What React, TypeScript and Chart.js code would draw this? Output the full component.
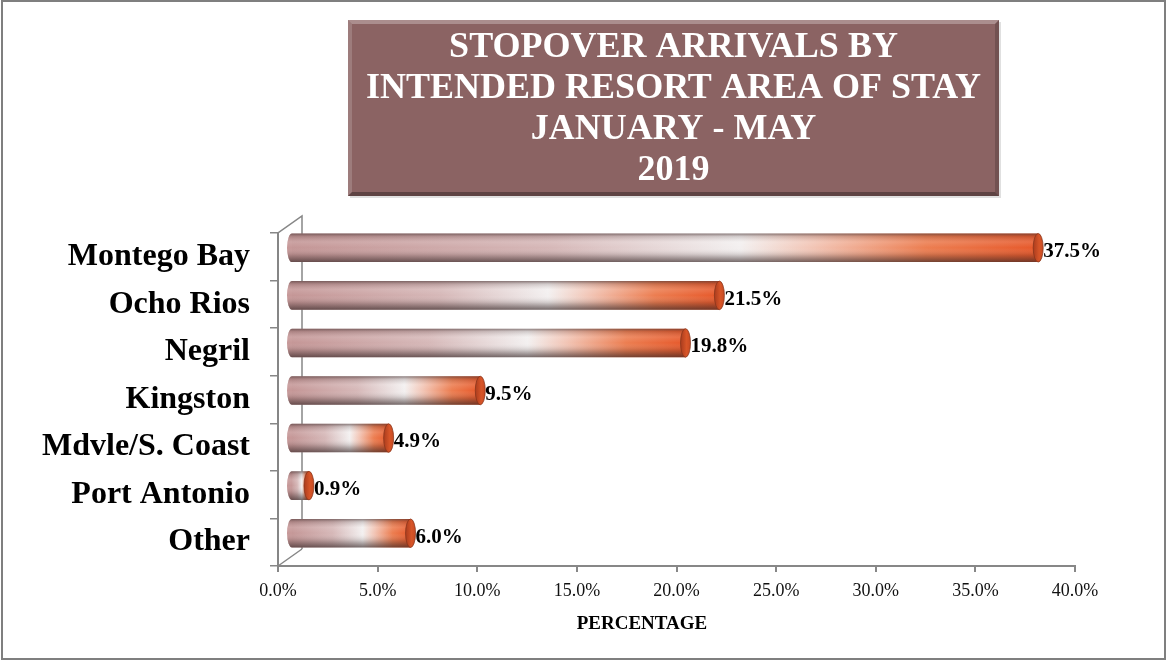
import React, { useEffect, useRef } from "react";
import { Chart, registerables } from "chart.js";

Chart.register(...registerables);

// ---- data ----
const categories = [
  "Montego Bay",
  "Ocho Rios",
  "Negril",
  "Kingston",
  "Mdvle/S. Coast",
  "Port Antonio",
  "Other",
];
const shares = [37.5, 21.5, 19.8, 9.5, 4.9, 0.9, 6.0];
const xTickValues = [0, 5, 10, 15, 20, 25, 30, 35, 40];
const titleLines = [
  "STOPOVER ARRIVALS BY",
  "INTENDED RESORT AREA OF STAY",
  "JANUARY - MAY",
  "2019",
];
const axisTitle = "PERCENTAGE";

// ---- styling ----
const W = 1167;
const H = 661;
const SERIF = "'Liberation Serif', 'Times New Roman', serif";
const AXIS = "#878787";
const DEPTH_X = 24;
const DEPTH_Y = -17;
const BAR_DX = 13;
const BAR_DY = -9;
const CAP_RX = 5;

const fmt = (v: number) => v.toFixed(1) + "%";

const cylinderPlugin = {
  id: "cylinder3d",
  beforeDraw(chart: any) {
    const ctx = chart.ctx as CanvasRenderingContext2D;
    ctx.save();
    ctx.fillStyle = "#ffffff";
    ctx.fillRect(0, 0, W, H);
    // outer border
    ctx.strokeStyle = "#7f7f7f";
    ctx.lineWidth = 2;
    ctx.strokeRect(2, 1, W - 4, H - 3);

    // title box
    const bx = 348, by = 20, bw = 651, bh = 176, bv = 4;
    ctx.fillStyle = "rgba(0,0,0,0.12)";
    ctx.fillRect(bx + 2, by + 2, bw, bh);
    ctx.fillStyle = "#8b6363";
    ctx.fillRect(bx, by, bw, bh);
    const poly = (pts: number[][], color: string) => {
      ctx.beginPath();
      ctx.moveTo(pts[0][0], pts[0][1]);
      for (let i = 1; i < pts.length; i++) ctx.lineTo(pts[i][0], pts[i][1]);
      ctx.closePath();
      ctx.fillStyle = color;
      ctx.fill();
    };
    poly([[bx, by], [bx + bw, by], [bx + bw - bv, by + bv], [bx + bv, by + bv]], "rgba(255,255,255,0.28)");
    poly([[bx, by], [bx + bv, by + bv], [bx + bv, by + bh - bv], [bx, by + bh]], "rgba(255,255,255,0.16)");
    poly([[bx + bw, by], [bx + bw, by + bh], [bx + bw - bv, by + bh - bv], [bx + bw - bv, by + bv]], "rgba(0,0,0,0.18)");
    poly([[bx, by + bh], [bx + bw, by + bh], [bx + bw - bv, by + bh - bv], [bx + bv, by + bh - bv]], "rgba(0,0,0,0.32)");

    ctx.fillStyle = "#ffffff";
    ctx.font = `bold 36px ${SERIF}`;
    ctx.textAlign = "center";
    ctx.textBaseline = "alphabetic";
    const baselines = [57, 98, 139, 180];
    titleLines.forEach((t, i) => ctx.fillText(t, bx + bw / 2, baselines[i]));

    // axis title
    ctx.fillStyle = "#000000";
    ctx.font = `bold 19px ${SERIF}`;
    ctx.textBaseline = "middle";
    ctx.fillText(axisTitle, 642, 624);
    ctx.restore();
  },
  beforeDatasetsDraw(chart: any) {
    const ctx = chart.ctx as CanvasRenderingContext2D;
    const { left, top, bottom } = chart.chartArea;
    ctx.save();
    ctx.strokeStyle = AXIS;
    ctx.lineWidth = 1.5;
    ctx.beginPath();
    ctx.moveTo(left, bottom);
    ctx.lineTo(left, top);
    ctx.lineTo(left + DEPTH_X, top + DEPTH_Y);
    ctx.lineTo(left + DEPTH_X, bottom + DEPTH_Y);
    ctx.moveTo(left, bottom);
    ctx.lineTo(left + DEPTH_X, bottom + DEPTH_Y);
    ctx.stroke();
    ctx.restore();
    ctx.save();
    ctx.translate(BAR_DX, BAR_DY);
  },
  afterDatasetsDraw(chart: any) {
    const ctx = chart.ctx as CanvasRenderingContext2D;
    const meta = chart.getDatasetMeta(0);
    const items = meta.data.map((bar: any) => bar.getProps(["x", "y", "base", "height"], true));
    items.forEach((p: any) => {
      const { x, y, base, height } = p;
      if (![x, y, base, height].every(Number.isFinite)) return;
      const hh = height / 2;
      // left (back) cap
      ctx.beginPath();
      ctx.ellipse(base, y, CAP_RX, hh, 0, Math.PI / 2, (3 * Math.PI) / 2);
      ctx.closePath();
      ctx.fillStyle = "rgb(198,152,152)";
      ctx.fill();
      // vertical shading overlay
      ctx.beginPath();
      ctx.moveTo(base, y - hh);
      ctx.lineTo(x, y - hh);
      ctx.lineTo(x, y + hh);
      ctx.lineTo(base, y + hh);
      ctx.ellipse(base, y, CAP_RX, hh, 0, Math.PI / 2, (3 * Math.PI) / 2);
      ctx.closePath();
      const vg = ctx.createLinearGradient(0, y - hh, 0, y + hh);
      vg.addColorStop(0, "rgba(70,50,50,0.6)");
      vg.addColorStop(0.1, "rgba(70,50,50,0.2)");
      vg.addColorStop(0.3, "rgba(255,255,255,0.12)");
      vg.addColorStop(0.5, "rgba(255,255,255,0)");
      vg.addColorStop(0.75, "rgba(50,35,35,0.18)");
      vg.addColorStop(1, "rgba(50,35,35,0.65)");
      ctx.fillStyle = vg;
      ctx.fill();
      // right (front) cap
      ctx.beginPath();
      ctx.ellipse(x, y, CAP_RX, hh, 0, 0, Math.PI * 2);
      const cg = ctx.createLinearGradient(x - CAP_RX, 0, x + CAP_RX, 0);
      cg.addColorStop(0, "rgb(170,60,30)");
      cg.addColorStop(0.6, "rgb(215,85,40)");
      cg.addColorStop(1, "rgb(200,75,35)");
      ctx.fillStyle = cg;
      ctx.fill();
      ctx.strokeStyle = "rgba(130,50,25,0.7)";
      ctx.lineWidth = 1;
      ctx.stroke();
    });
    ctx.restore();
    // value labels
    ctx.save();
    ctx.fillStyle = "#000000";
    ctx.font = `bold 21px ${SERIF}`;
    ctx.textAlign = "left";
    ctx.textBaseline = "middle";
    items.forEach((p: any, i: number) => {
      if (!Number.isFinite(p.x)) return;
      ctx.fillText(fmt(shares[i]), p.x + BAR_DX + CAP_RX, p.y + BAR_DY + 4);
    });
    ctx.restore();
  },
};

function barGradient(c: any) {
  const chart = c.chart;
  const xs = chart.scales && chart.scales.x;
  const fallback = "rgb(216,186,186)";
  if (!xs || c.type !== "data" || !chart.chartArea) return fallback;
  const x0 = xs.getPixelForValue(0);
  const x1 = xs.getPixelForValue(shares[c.dataIndex]);
  if (!Number.isFinite(x0) || !Number.isFinite(x1) || x1 <= x0) return fallback;
  const g = chart.ctx.createLinearGradient(x0, 0, x1, 0);
  g.addColorStop(0, "rgb(196,150,150)");
  g.addColorStop(0.35, "rgb(214,184,184)");
  g.addColorStop(0.6, "rgb(243,240,240)");
  g.addColorStop(0.7, "rgb(242,196,180)");
  g.addColorStop(0.85, "rgb(236,125,80)");
  g.addColorStop(1, "rgb(230,88,42)");
  return g;
}

export default function App() {
  const ref = useRef<HTMLCanvasElement>(null);
  useEffect(() => {
    if (!ref.current) return;
    const chart = new Chart(ref.current, {
      type: "bar",
      data: {
        labels: categories,
        datasets: [
          {
            data: shares,
            backgroundColor: barGradient as any,
            borderWidth: 0,
            barPercentage: 0.6,
            categoryPercentage: 1,
            clip: false as any,
          },
        ],
      },
      options: {
        indexAxis: "y",
        responsive: false,
        animation: false,
        events: [],
        layout: { padding: { left: 0, right: 92, top: 233, bottom: 0 } },
        plugins: {
          legend: { display: false },
          tooltip: { enabled: false },
          title: { display: false },
        },
        scales: {
          x: {
            type: "linear",
            min: 0,
            max: 40,
            afterBuildTicks: (s: any) => {
              s.ticks = xTickValues.map((v) => ({ value: v }));
            },
            afterFit: (s: any) => {
              s.height = 95;
            },
            grid: {
              display: true,
              drawOnChartArea: false,
              drawTicks: true,
              tickLength: 6,
              color: AXIS,
              lineWidth: 2,
            },
            border: { display: true, color: AXIS, width: 2 },
            ticks: {
              color: "#111111",
              font: { family: SERIF, size: 18 },
              padding: 8,
              maxRotation: 0,
              callback: (v: any) => fmt(Number(v)),
            },
          },
          y: {
            type: "category",
            afterFit: (s: any) => {
              s.width = 278;
            },
            grid: {
              display: true,
              drawOnChartArea: false,
              drawTicks: true,
              tickLength: 8,
              offset: true,
              color: AXIS,
              lineWidth: 1.5,
            },
            border: { display: true, color: AXIS, width: 2 },
            ticks: {
              color: "#000000",
              font: { family: SERIF, size: 32, weight: "bold" },
              padding: 20,
              crossAlign: "near",
            },
          },
        },
      },
      plugins: [cylinderPlugin],
    });
    return () => chart.destroy();
  }, []);
  return (
    <div style={{ position: "absolute", left: 0, top: 0, width: W, height: H, background: "#fff" }}>
      <canvas ref={ref} width={W} height={H} style={{ display: "block", width: W, height: H }} />
    </div>
  );
}
